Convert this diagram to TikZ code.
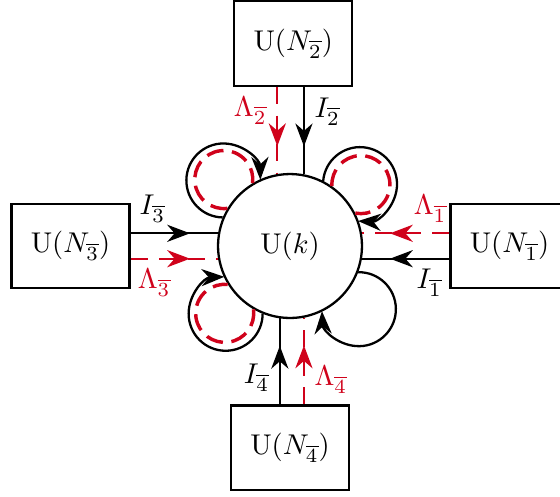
\documentclass[tikz,border=0pt]{standalone}
\usepackage{amsmath,amssymb}
\usepackage{tikz}
\usetikzlibrary{arrows.meta,positioning,calc,decorations.markings}
\definecolor{lamred}{RGB}{208,2,27}
\tikzset{
    site/.style={circle, draw, thick, minimum size=1.77cm, inner sep=0pt},
    bath/.style={rectangle, draw, thick, minimum width=1.45cm, minimum height=1.04cm},
    curr/.style={thick, black},
    lam/.style={thick, lamred, dash pattern=on 6pt off 4pt},
    lamloop/.style={very thick, lamred, dash pattern=on 6pt off 3pt},
    tip/.style={-{Stealth[length=8pt, width=6pt, inset=2.6pt]}},
    midarrow/.style={postaction={decorate}, decoration={markings, mark=at position 0.68 with {\arrow{Stealth[length=8pt, width=6pt, inset=2.6pt]}}}},
    lamlabel/.style={text=lamred},
}

\begin{document}
\begin{tikzpicture}
    \useasboundingbox (-3.567,-3.075) rectangle (3.321,3.026);

    % 中心格点
    \node[site] (k) at (0,0) {$\mathrm{U}(k)$};

    % 四个库
    \node[bath] (N1) at (2.70,0) {$\mathrm{U}(N_{\overline{1}})$};
    \node[bath] (N2) at (0.04,2.49) {$\mathrm{U}(N_{\overline{2}})$};
    \node[bath] (N3) at (-2.70,0) {$\mathrm{U}(N_{\overline{3}})$};
    \node[bath] (N4) at (0,-2.48) {$\mathrm{U}(N_{\overline{4}})$};

    % 流 I
    \draw[curr, midarrow] (N1.west |- k.350) -- (k.350) node[pos=0.23, below] (I1) {$I_{\overline{1}}$};
    \draw[curr, midarrow] (N2.south -| k.79) -- (k.79) node[pos=0.28, right] (I2) {$I_{\overline{2}}$};
    \draw[curr, midarrow] (N3.east |- k.170) -- (k.170) node[pos=0.25, above] (I3) {$I_{\overline{3}}$};
    \draw[curr, midarrow] (N4.north -| k.262) -- (k.262) node[pos=0.31, left] (I4) {$I_{\overline{4}}$};

    % 耦合 Lambda
    \draw[lam, midarrow] (N1.west |- k.10) -- (k.10) node[pos=0.22, above, lamlabel] (L1) {$\Lambda_{\overline{1}}$};
    \draw[lam, midarrow] (N2.south -| k.100) -- (k.100) node[pos=0.27, left, lamlabel] (L2) {$\Lambda_{\overline{2}}$};
    \draw[lam, midarrow] (N3.east |- k.190) -- (k.190) node[pos=0.27, below, lamlabel] (L3) {$\Lambda_{\overline{3}}$};
    \draw[lam, midarrow] (N4.north -| k.281) -- (k.281) node[pos=0.28, right, lamlabel] (L4) {$\Lambda_{\overline{4}}$};

    % 自环
    \foreach \a [evaluate=\a as \s using {int(\a+22)}] in {135,41,-43,226}
        \draw[curr, tip] (k.\s) arc[start angle=\a+134, end angle=\a-134, radius=0.455cm];
    \foreach \a [evaluate=\a as \s using {int(\a+14)}] in {135,41,226}
        \draw[lamloop] (k.\s) arc[start angle=\a+142, end angle=\a-142, radius=0.357cm];
\end{tikzpicture}
\end{document}
